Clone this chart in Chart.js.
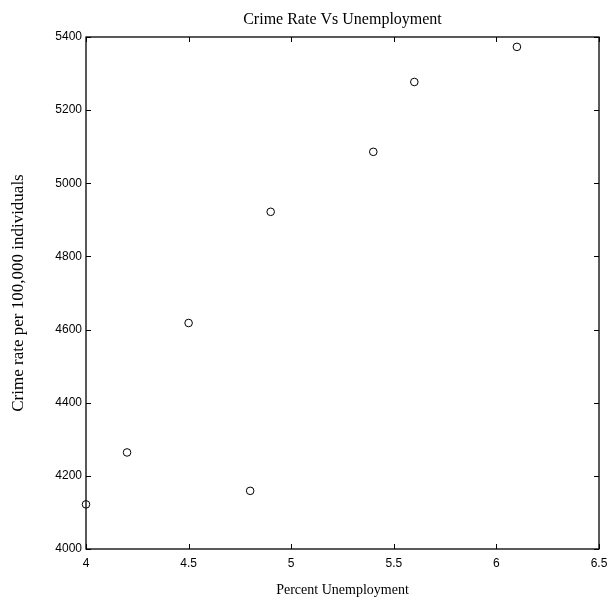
<!DOCTYPE html>
<html>
<head>
<meta charset="utf-8">
<script src="https://cdn.jsdelivr.net/npm/chart.js@4"></script>
<style>
  html, body { margin: 0; padding: 0; background: #fff; }
  #wrap { width: 608px; height: 604px; }
</style>
</head>
<body>
<div id="wrap"><canvas id="chart" width="608" height="604"></canvas></div>
<script>
const unemployment = [4.0, 4.2, 4.5, 4.8, 4.9, 5.4, 5.6, 6.1];
const crimeRate = [4122, 4264, 4618, 4159, 4922, 5086, 5277, 5373];
const xTicks = [4, 4.5, 5, 5.5, 6, 6.5];
const yTicks = [4000, 4200, 4400, 4600, 4800, 5000, 5200, 5400];

const points = unemployment.map((x, i) => ({ x: x, y: crimeRate[i] }));

// box round the plot and inward ticks on all four sides
const boxTicks = {
  id: "boxTicks",
  afterDraw(chart) {
    const ctx = chart.ctx;
    const a = chart.chartArea;
    const xs = chart.scales.x, ys = chart.scales.y;
    const len = 5;
    ctx.save();
    ctx.strokeStyle = "#000";
    ctx.lineWidth = 1.3;
    ctx.strokeRect(a.left, a.top, a.right - a.left, a.bottom - a.top);
    ctx.lineWidth = 1;
    ctx.beginPath();
    xTicks.forEach(v => {
      const px = Math.round(xs.getPixelForValue(v)) + 0.5;
      ctx.moveTo(px, a.bottom); ctx.lineTo(px, a.bottom - len);
      ctx.moveTo(px, a.top); ctx.lineTo(px, a.top + len);
    });
    yTicks.forEach(v => {
      const py = Math.round(ys.getPixelForValue(v)) + 0.5;
      ctx.moveTo(a.left, py); ctx.lineTo(a.left + len, py);
      ctx.moveTo(a.right, py); ctx.lineTo(a.right - len, py);
    });
    ctx.stroke();
    ctx.restore();
  }
};

new Chart(document.getElementById("chart"), {
  type: "scatter",
  data: {
    datasets: [{
      data: points,
      borderColor: "#000",
      backgroundColor: "rgba(0,0,0,0)",
      borderWidth: 1,
      pointRadius: 3.8,
      pointStyle: "circle",
      clip: false
    }]
  },
  options: {
    responsive: false,
    animation: false,
    layout: { padding: { left: 0, right: 9, top: 0, bottom: 0 } },
    plugins: {
      legend: { display: false },
      tooltip: { enabled: false },
      title: { display: false }
    },
    scales: {
      x: {
        type: "linear",
        min: 4, max: 6.5,
        afterBuildTicks: s => { s.ticks = xTicks.map(v => ({ value: v })); },
        afterFit: s => { s.height = 55; s.paddingLeft = 0; s.paddingRight = 0; },
        grid: { display: false, drawTicks: false },
        border: { display: false },
        ticks: {
          color: "#000",
          font: { family: "Liberation Sans", size: 12 },
          padding: 7,
          maxRotation: 0,
          callback: v => String(v)
        },
        title: {
          display: true,
          text: "Percent Unemployment",
          color: "#000",
          font: { family: "Liberation Serif", size: 14 },
          padding: { top: 4, bottom: 5 }
        }
      },
      // top axis only carries the chart title, centred over the plot
      xTop: {
        type: "linear",
        position: "top",
        min: 4, max: 6.5,
        afterFit: s => { s.height = 37; s.paddingLeft = 0; s.paddingRight = 0; },
        grid: { display: false, drawTicks: false },
        border: { display: false },
        ticks: { display: false },
        title: {
          display: true,
          text: "Crime Rate Vs Unemployment",
          color: "#000",
          font: { family: "Liberation Serif", size: 16 },
          padding: { top: 10, bottom: 4 }
        }
      },
      y: {
        type: "linear",
        min: 4000, max: 5400,
        afterBuildTicks: s => { s.ticks = yTicks.map(v => ({ value: v })); },
        afterFit: s => { s.width = 86; s.paddingTop = 0; s.paddingBottom = 0; },
        grid: { display: false, drawTicks: false },
        border: { display: false },
        ticks: {
          color: "#000",
          font: { family: "Liberation Sans", size: 12 },
          padding: 4,
          callback: v => String(v)
        },
        title: {
          display: true,
          text: "Crime rate per 100,000 individuals",
          color: "#000",
          font: { family: "Liberation Serif", size: 17 },
          padding: { top: 8, bottom: 4 }
        }
      }
    }
  },
  plugins: [boxTicks]
});
</script>
</body>
</html>
